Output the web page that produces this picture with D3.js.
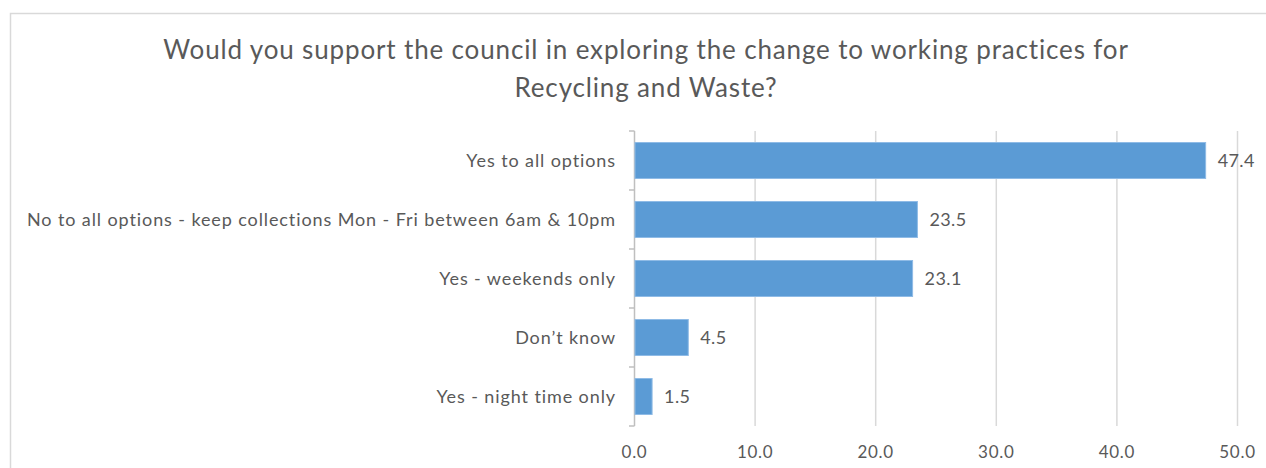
<!DOCTYPE html>
<html>
<head>
<meta charset="utf-8">
<script src="https://cdn.jsdelivr.net/npm/d3@7"></script>
<style>
  html, body { margin: 0; padding: 0; background: #fff; }
  svg text { font-family: Lato, "Open Sans", sans-serif; fill: #595959; }
</style>
</head>
<body>
<svg id="chart" width="1266" height="468"></svg>
<script>
// Survey responses (percent)
const categories = [
  "Yes to all options",
  "No to all options - keep collections Mon - Fri between 6am & 10pm",
  "Yes - weekends only",
  "Don\u2019t know",
  "Yes - night time only"
];
const values = [47.4, 23.5, 23.1, 4.5, 1.5];
const tickValues = [0, 10, 20, 30, 40, 50];
const titleLines = [
  "Would you support the council in exploring the change to working practices for",
  "Recycling and Waste?"
];

const svg = d3.select("#chart");
const W = 1266, H = 468;
const margin = { top: 131, right: 29, bottom: 42, left: 634 };
const innerW = W - margin.left - margin.right;
const innerH = H - margin.top - margin.bottom;

// chart frame
svg.append("path")
  .attr("d", `M10.5,${H} V13.5 H${W}`)
  .attr("fill", "none")
  .attr("stroke", "#d9d9d9")
  .attr("stroke-width", 1.5);

// title
svg.append("g").selectAll("text")
  .data(titleLines)
  .join("text")
  .attr("x", 646)
  .attr("y", (d, i) => 59 + i * 38)
  .attr("text-anchor", "middle")
  .attr("font-size", 26)
  .attr("letter-spacing", 0.85)
  .text(d => d);

const x = d3.scaleLinear().domain([0, 50]).range([0, innerW]);
const y = d3.scaleBand().domain(categories).range([0, innerH]).paddingInner(0.39).paddingOuter(0.195);

const g = svg.append("g").attr("transform", `translate(${margin.left},${margin.top})`);

// vertical gridlines
g.append("g")
  .selectAll("line")
  .data(tickValues.slice(1))
  .join("line")
  .attr("x1", d => x(d) + 0.5)
  .attr("x2", d => x(d) + 0.5)
  .attr("y1", 0)
  .attr("y2", innerH)
  .attr("stroke", "#d9d9d9")
  .attr("stroke-width", 1.5);

// bottom tick labels
const xAxis = g.append("g")
  .attr("transform", `translate(0,${innerH})`)
  .call(d3.axisBottom(x).tickValues(tickValues).tickFormat(d3.format(".1f")).tickSize(0).tickPadding(20));
xAxis.select(".domain").remove();
xAxis.selectAll("text")
  .attr("font-size", 17)
  .attr("letter-spacing", 0.7)
  .attr("fill", "#595959")
  .style("font-family", "Lato, sans-serif");

// category axis with ticks at band boundaries
const bandEdges = d3.range(categories.length + 1).map(i =>
  i === 0 ? 0 : (i === categories.length ? innerH : y(categories[i]) - y.step() * y.paddingInner() / 2));
g.append("line")
  .attr("x1", 0.5).attr("x2", 0.5).attr("y1", 0).attr("y2", innerH)
  .attr("stroke", "#bfbfbf").attr("stroke-width", 1.5);
g.append("g").selectAll("line")
  .data(bandEdges)
  .join("line")
  .attr("x1", -5).attr("x2", 0.5)
  .attr("y1", d => d).attr("y2", d => d)
  .attr("stroke", "#bfbfbf").attr("stroke-width", 1.5);

// category labels
g.append("g").selectAll("text")
  .data(categories)
  .join("text")
  .attr("x", -18)
  .attr("y", d => y(d) + y.bandwidth() / 2)
  .attr("dy", "0.36em")
  .attr("text-anchor", "end")
  .attr("font-size", 18)
  .attr("letter-spacing", 0.9)
  .text(d => d);

// bars
g.append("g").selectAll("rect")
  .data(values)
  .join("rect")
  .attr("x", 1)
  .attr("y", (d, i) => y(categories[i]))
  .attr("width", d => x(d) - 1)
  .attr("height", y.bandwidth())
  .attr("fill", "#5b9bd5")
  .attr("stroke", "#8fbbe6")
  .attr("stroke-width", 1);

// value labels
g.append("g").selectAll("text")
  .data(values)
  .join("text")
  .attr("x", d => x(d) + 12)
  .attr("y", (d, i) => y(categories[i]) + y.bandwidth() / 2)
  .attr("dy", "0.38em")
  .attr("font-size", 18)
  .attr("letter-spacing", 0.4)
  .text(d => d.toFixed(1));
</script>
</body>
</html>
